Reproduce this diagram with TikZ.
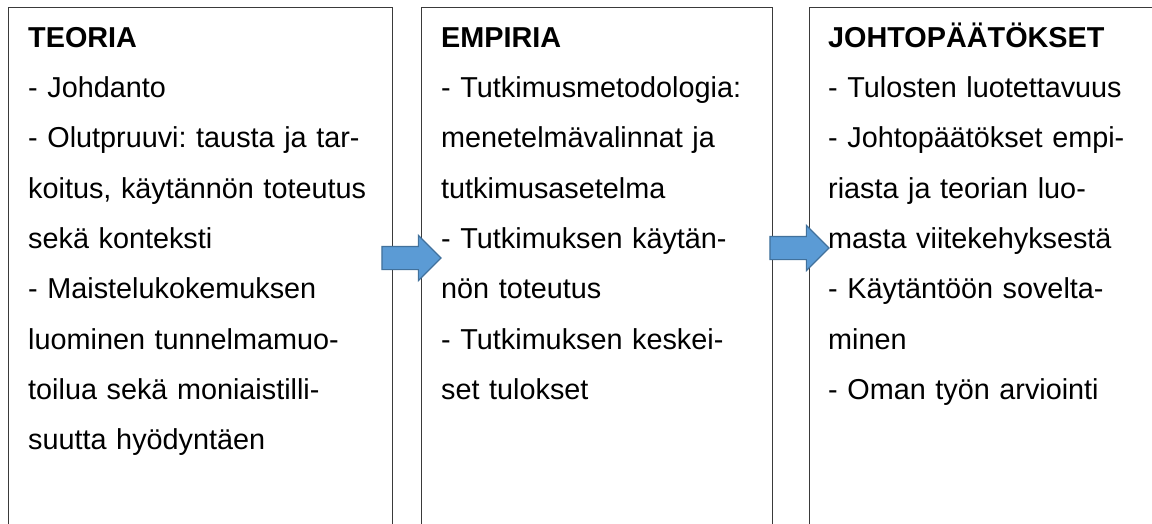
\documentclass[tikz,border=0pt]{standalone}
\usepackage{fontspec}
\setmainfont{Liberation Sans}
\usepackage{xcolor}
\usetikzlibrary{shapes,arrows,positioning,calc}
\frenchspacing

\definecolor{arrowblue}{HTML}{5B9BD5}
\definecolor{arrowedge}{HTML}{41719C}
\definecolor{boxline}{HTML}{3A3A3A}

\tikzset{
    colbox/.style={rectangle, draw=boxline, line width=1.3pt, anchor=north west,
        minimum height=600pt, inner sep=0pt},
    coltext/.style={anchor=north west, align=left, inner sep=0pt,
        font=\fontsize{28.8}{50.3}\selectfont},
    blkarrow/.style={single arrow, draw=arrowedge, fill=arrowblue, line width=1.2pt,
        minimum height=59pt, minimum width=44pt, single arrow head extend=11pt,
        inner xsep=0pt, inner ysep=11pt}
}

\begin{document}
\begin{tikzpicture}[x=1pt,y=-1pt]
            % page size
            \useasboundingbox (0,0) rectangle (1152,524);
            \fill[white] (0,0) rectangle (1152,524);
            \clip (0,0) rectangle (1152,524);

            % three columns
            \node[colbox, minimum width=384pt] (teoria) at (8,7) {};
            \node[colbox, minimum width=351pt] (empiria) at (421,7) {};
            \node[colbox, minimum width=400pt] (johto) at (809,7) {};

            % texts in the columns
            \node[coltext, text width=362pt] (teoriatext) at (28,11.8) {\strut\textbf{TEORIA}\\
                - Johdanto\\
                - Olutpruuvi: tausta ja tar-\\
                koitus, käytännön toteutus\\
                sekä konteksti\\
                - Maistelukokemuksen\\
                luominen tunnelmamuo-\\
                toilua sekä moniaistilli-\\
                suutta hyödyntäen};
            \node[coltext, text width=330pt] (empiriatext) at (441,11.8) {\strut\textbf{EMPIRIA}\\
                - Tutkimusmetodologia:\\
                menetelmävalinnat ja\\
                tutkimusasetelma\\
                - Tutkimuksen käytän-\\
                nön toteutus\\
                - Tutkimuksen keskei-\\
                set tulokset};
            \node[coltext, text width=322pt] (johtotext) at (828,11.8) {\strut\textbf{JOHTOPÄÄTÖKSET}\\
                - Tulosten luotettavuus\\
                - Johtopäätökset empi-\\
                riasta ja teorian luo-\\
                masta viitekehyksestä\\
                - Käytäntöön sovelta-\\
                minen\\
                - Oman työn arviointi};

            % block arrows between the columns
            \node[blkarrow] (arr1) at ($(teoria.north east)!0.5!(empiria.north west)+(-1.5,251)$) {};
            \node[blkarrow] (arr2) at ($(empiria.north east)!0.5!(johto.north west)+(2.5,241)$) {};
        \end{tikzpicture}
\end{document}
